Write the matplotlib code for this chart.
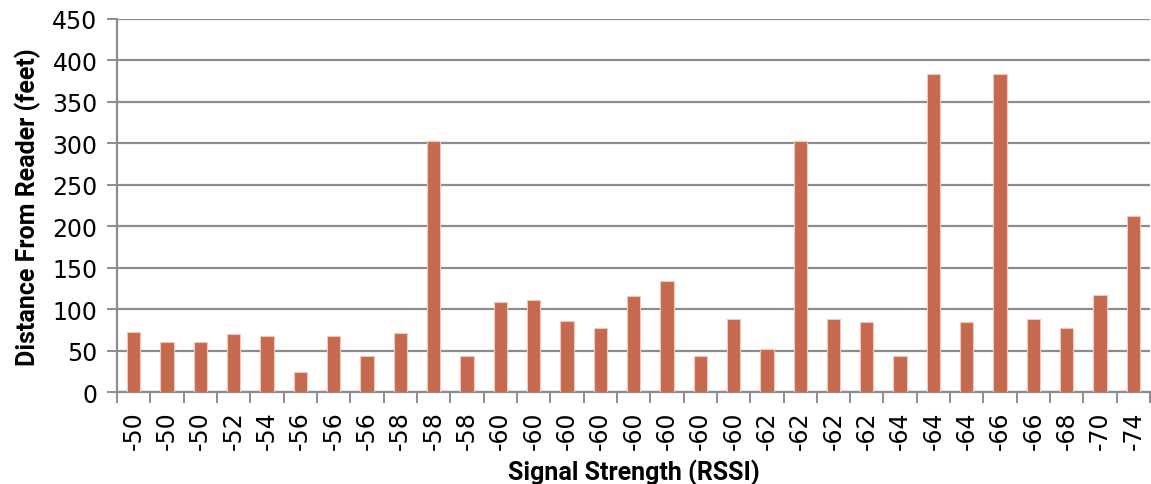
import numpy as np
import matplotlib.pyplot as plt
from matplotlib.ticker import FixedLocator

# RSSI readings and measured distance for each sample
rssi = [-50, -50, -50, -52, -54, -56, -56, -56, -58, -58, -58,
        -60, -60, -60, -60, -60, -60, -60, -60, -62, -62, -62, -62,
        -64, -64, -64, -66, -66, -68, -70, -74]
distance_ft = [73, 61, 61, 70, 68, 24, 68, 44, 71, 303, 44,
               109, 111, 86, 78, 116, 134, 44, 88, 52, 303, 88, 85,
               44, 384, 85, 384, 88, 78, 117, 213]

bar_color = "#C5694F"
grid_color = "#8c8c8c"

fig = plt.figure(figsize=(11.51, 4.85), dpi=100)
ax = fig.add_axes([0.1017, 0.189, 0.8975, 0.7698])

x = np.arange(len(distance_ft))
ax.bar(x, distance_ft, width=0.4, color=bar_color, edgecolor="#f0c8bc", linewidth=0.8, zorder=3)

ax.set_xlim(-0.5, len(x) - 0.5)
ax.set_ylim(0, 450)
ax.set_yticks(np.arange(0, 451, 50))
ax.yaxis.grid(True, color=grid_color, linewidth=1.6, zorder=0)
ax.set_axisbelow(True)

# labels at bar centres, tick marks on the category boundaries
ax.set_xticks(x)
ax.set_xticklabels([str(v) for v in rssi], rotation=90)
ax.xaxis.set_minor_locator(FixedLocator(np.arange(-0.5, len(x), 1.0)))
ax.tick_params(axis="x", which="major", length=0, pad=13)
ax.tick_params(axis="x", which="minor", length=8, width=1.4, color=grid_color)
ax.tick_params(axis="y", length=7, width=1.4, color=grid_color, pad=7)

for lab in ax.get_xticklabels() + ax.get_yticklabels():
    lab.set_fontfamily("DejaVu Sans")
    lab.set_fontsize(17)

for side in ("top", "right"):
    ax.spines[side].set_visible(False)
ax.spines["left"].set_color(grid_color)
ax.spines["left"].set_linewidth(1.6)
ax.spines["bottom"].set_color(grid_color)
ax.spines["bottom"].set_linewidth(1.6)

ax.set_xlabel("Signal Strength (RSSI)", fontfamily="Roboto", fontweight="bold", fontsize=18)
ax.set_ylabel("Distance From Reader (feet)", fontfamily="Roboto", fontweight="bold", fontsize=18)
ax.xaxis.set_label_coords(0.5, -0.178)
ax.yaxis.set_label_coords(-0.074, 0.5)

fig.savefig("out.png", dpi=100)
